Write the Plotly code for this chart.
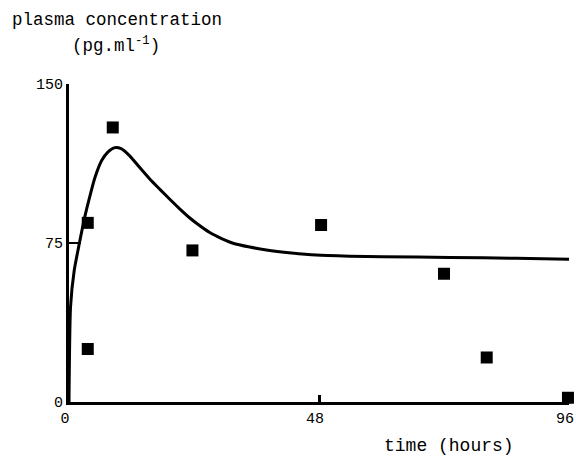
import plotly.graph_objects as go

# Observed data (squares)
obs_time = [3.6, 3.6, 8.4, 23.7, 48.4, 72.0, 80.2, 95.8]
obs_conc = [84.5, 25.0, 129.5, 71.5, 83.5, 60.5, 21.0, 2.0]

# Fitted curve
fit_time = [0, 0.3, 1, 2, 3, 4, 5, 6.3, 7.5, 8.8, 10, 11.7, 13.5, 15.5, 17.5, 19.4,
            21.3, 23.2, 25.2, 27.1, 29.3, 31.5, 34.7, 37.9, 42.7, 47.5, 53.9, 60.3,
            73.1, 85.9, 96]
fit_conc = [0, 45, 62, 75, 87, 97, 106, 114, 118, 120, 119.5, 116, 110.8, 105.2, 100.2, 95.5,
            91.0, 86.8, 83.0, 79.8, 77.1, 74.9, 73.1, 71.7, 70.3, 69.3, 68.8, 68.5,
            68.2, 67.8, 67.3]

x_ticks = [0, 48, 96]
y_ticks = [0, 75, 150]

fig = go.Figure()
fig.add_trace(go.Scatter(x=fit_time, y=fit_conc, mode="lines",
                         line=dict(color="black", width=3, shape="spline", smoothing=0.6),
                         cliponaxis=False, showlegend=False, hoverinfo="skip"))
fig.add_trace(go.Scatter(x=obs_time, y=obs_conc, mode="markers",
                         marker=dict(symbol="square", size=12, color="black"),
                         cliponaxis=False, showlegend=False))

tickfont = dict(family="Liberation Mono", size=15, color="black")
fig.update_xaxes(range=[0, 96], tickvals=x_ticks, ticktext=[str(v) for v in x_ticks],
                 showline=True, linecolor="black", linewidth=3, showgrid=False,
                 zeroline=False, ticks="inside", ticklen=7, tickwidth=3, tickcolor="black",
                 tickfont=tickfont, ticklabeloverflow="allow", ticklabelshift=-4,
                 automargin=False)
fig.update_yaxes(range=[0, 150], tickvals=y_ticks, ticktext=[str(v) for v in y_ticks],
                 showline=True, linecolor="black", linewidth=3, showgrid=False,
                 zeroline=False, ticks="inside", ticklen=12, tickwidth=2, tickcolor="black",
                 tickfont=tickfont, automargin=False)

mono = dict(family="Liberation Mono", size=17.5, color="black")
fig.update_layout(
    width=576, height=457,
    margin=dict(l=69, r=7, t=84, b=55),
    plot_bgcolor="white", paper_bgcolor="white",
    annotations=[
        dict(text="plasma concentration", xref="paper", yref="paper",
             x=-0.118, y=1.201, xanchor="left", yanchor="middle",
             showarrow=False, font=mono),
        dict(text="(pg.ml<sup>-1</sup>)", xref="paper", yref="paper",
             x=0.002, y=1.123, xanchor="left", yanchor="middle",
             showarrow=False, font=mono),
        dict(text="time (hours)", xref="paper", yref="paper",
             x=0.626, y=-0.138, xanchor="left", yanchor="middle",
             showarrow=False, font=dict(family="Liberation Mono", size=18, color="black")),
    ],
)

fig.write_html("out.html", config={"displayModeBar": False},
               post_script="document.body.style.margin='0px';")
